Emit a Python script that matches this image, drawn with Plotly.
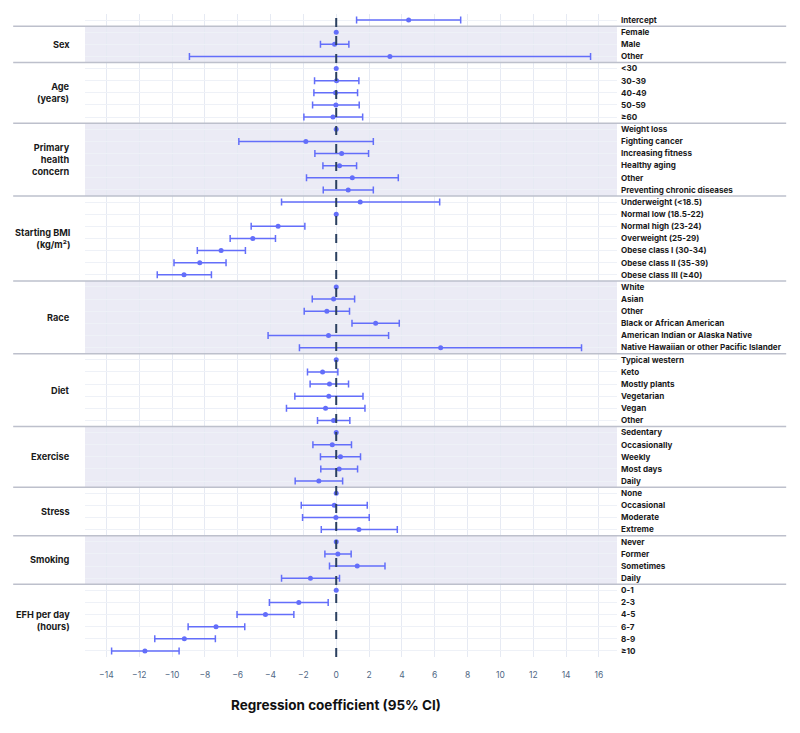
import plotly.graph_objects as go

# group headers (left) and how many rows each one covers
groups = ["", "Sex", "Age<br>(years)", "Primary<br>health<br>concern", "Starting BMI<br>(kg/m²)",
          "Race", "Diet", "Exercise", "Stress", "Smoking", "EFH per day<br>(hours)"]
group_sizes = [1, 3, 5, 6, 7, 6, 6, 5, 4, 4, 6]

labels = ["Intercept",
          "Female", "Male", "Other",
          "&lt;30", "30-39", "40-49", "50-59", "≥60",
          "Weight loss", "Fighting cancer", "Increasing fitness", "Healthy aging", "Other",
          "Preventing chronic diseases",
          "Underweight (&lt;18.5)", "Normal low (18.5-22)", "Normal high (23-24)", "Overweight (25-29)",
          "Obese class I (30-34)", "Obese class II (35-39)", "Obese class III (≥40)",
          "White", "Asian", "Other", "Black or African American", "American Indian or Alaska Native",
          "Native Hawaiian or other Pacific Islander",
          "Typical western", "Keto", "Mostly plants", "Vegetarian", "Vegan", "Other",
          "Sedentary", "Occasionally", "Weekly", "Most days", "Daily",
          "None", "Occasional", "Moderate", "Extreme",
          "Never", "Former", "Sometimes", "Daily",
          "0-1", "2-3", "4-5", "6-7", "8-9", "≥10"]

coef = [4.41,
        0, -0.10, 3.27,
        0, 0.02, -0.04, -0.02, -0.20,
        0, -1.85, 0.33, 0.20, 0.98, 0.73,
        1.46, 0, -3.54, -5.08, -7.01, -8.31, -9.27,
        0, -0.16, -0.57, 2.40, -0.47, 6.36,
        0, -0.83, -0.41, -0.45, -0.65, -0.16,
        0, -0.24, 0.26, 0.18, -1.06,
        0, -0.12, -0.02, 1.38,
        0, 0.10, 1.28, -1.57,
        0, -2.28, -4.31, -7.32, -9.25, -11.65]

ci_low = [1.24,
          0, -0.96, -8.94,
          0, -1.32, -1.36, -1.44, -1.97,
          0, -5.93, -1.30, -0.81, -1.81, -0.79,
          -3.33, 0, -5.18, -6.46, -8.46, -9.88, -10.90,
          0, -1.46, -1.95, 0.96, -4.15, -2.24,
          0, -1.75, -1.59, -2.52, -3.03, -1.14,
          0, -1.42, -0.96, -0.94, -2.50,
          0, -2.13, -2.05, -0.91,
          0, -0.69, -0.41, -3.33,
          0, -4.07, -6.04, -9.02, -11.05, -13.68]

ci_high = [7.58,
           0, 0.77, 15.49,
           0, 1.38, 1.30, 1.40, 1.61,
           0, 2.26, 1.97, 1.24, 3.78, 2.26,
           6.30, 0, -1.91, -3.70, -5.53, -6.71, -7.60,
           0, 1.12, 0.81, 3.84, 3.19, 14.94,
           0, 0.10, 0.75, 1.63, 1.75, 0.83,
           0, 0.93, 1.48, 1.30, 0.39,
           0, 1.89, 2.01, 3.72,
           0, 0.91, 2.97, 0.20,
           0, -0.49, -2.58, -5.57, -7.36, -9.57]

rows = list(range(len(labels)))
est = [i for i in rows if ci_low[i] != ci_high[i]]
ref = [i for i in rows if ci_low[i] == ci_high[i]]

blue = "#636EFA"
fig = go.Figure()
fig.add_trace(go.Scatter(
    x=[coef[i] for i in est], y=est, mode="markers",
    marker=dict(color=blue, size=5),
    error_x=dict(type="data", symmetric=False,
                 array=[ci_high[i] - coef[i] for i in est],
                 arrayminus=[coef[i] - ci_low[i] for i in est],
                 color=blue, thickness=1.5, width=3.5),
    showlegend=False))
fig.add_trace(go.Scatter(
    x=[coef[i] for i in ref], y=ref, mode="markers",
    marker=dict(color=blue, size=5), showlegend=False))

shapes = []
annotations = []
start = 0
for k, (g, n) in enumerate(zip(groups, group_sizes)):
    end = start + n - 1
    if k % 2 == 1:
        shapes.append(dict(type="rect", xref="paper", x0=0, x1=1, yref="y",
                           y0=start - 0.5, y1=end + 0.5, fillcolor="#EBEBF5",
                           line=dict(width=0), layer="below"))
    if k > 0:
        shapes.append(dict(type="line", xref="paper", x0=-0.135, x1=1.318, yref="y",
                           y0=start - 0.5, y1=start - 0.5,
                           line=dict(color="#BDC0CC", width=1.5), layer="above"))
    if g:
        annotations.append(dict(text="<b>" + g + "</b>", xref="paper", x=-0.024, xanchor="right",
                                yref="y", y=(start + end) / 2, yanchor="middle", align="right",
                                showarrow=False, font=dict(size=9.2, color="#1a1a1a")))
    start = end + 1

# reference line at zero
shapes.append(dict(type="line", xref="x", x0=0, x1=0, yref="paper", y0=0, y1=1,
                   line=dict(color="#2a3f5f", width=2, dash="dash"), layer="above"))

annotations.append(dict(text="<b>Regression coefficient (95% CI)</b>", xref="x", x=0,
                        yref="paper", y=-0.075, yanchor="middle", showarrow=False,
                        font=dict(size=13.5, color="#111111")))

fig.update_layout(
    width=800, height=733,
    margin=dict(l=77, r=191, t=6, b=84),
    plot_bgcolor="white", paper_bgcolor="white",
    font=dict(family="Inter"),
    shapes=shapes, annotations=annotations,
    xaxis=dict(range=[-15.3, 17.1], tickvals=list(range(-14, 17, 2)), showgrid=True,
               gridcolor="#E6EAF3", zeroline=False, showline=False,
               ticks="outside", ticklen=10, tickcolor="rgba(0,0,0,0)", automargin=False,
               tickfont=dict(size=8.5, color="#506784")),
    yaxis=dict(range=[len(labels) - 0.5, -0.5], tickvals=rows,
               ticktext=["<b>" + t + "</b>" for t in labels], side="right",
               showgrid=True, gridcolor="#EEF1F7", zeroline=False, showline=False,
               ticks="", automargin=False, ticklabelstandoff=3,
               tickfont=dict(size=8.1, color="#1a1a1a")),
)

fig.write_html("out.html")
